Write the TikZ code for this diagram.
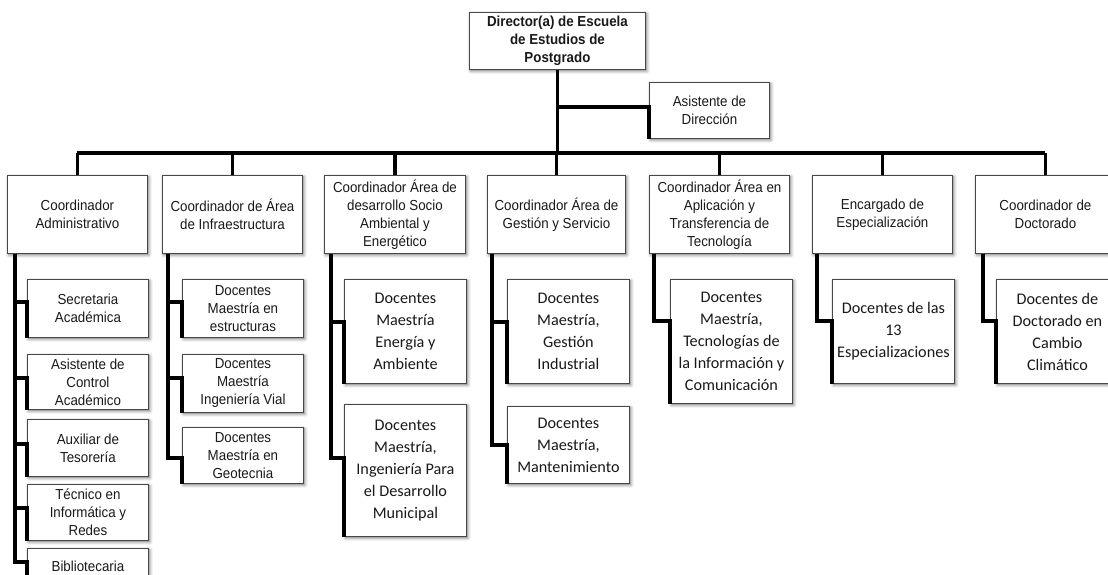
\documentclass[tikz,border=0pt]{standalone}
\usepackage{fontspec}
\setmainfont{Liberation Sans}
\newfontfamily\narrowfont[FakeStretch=0.92]{Liberation Sans}
\newfontfamily\calibfont{Carlito}
\usetikzlibrary{shadows.blur}

\tikzset{
  unitbox/.style={draw=black!72, line width=0.9pt, fill=white,
    blur shadow={shadow xshift=1.3pt, shadow yshift=-1.5pt,
      shadow blur radius=3.2pt, shadow opacity=55},
    inner sep=2pt, align=center, anchor=north west, text=black!90,
    font=\narrowfont\fontsize{14.5}{18}\selectfont},
  bigtext/.style={font=\calibfont\fontsize{16.2}{22}\selectfont},
  headtext/.style={font=\narrowfont\bfseries\fontsize{14.5}{18}\selectfont},
  conn/.style={line width=3.3pt, black},
}

% elbow from a column line to a unit box, continuing down its left edge
\newcommand\branch[3]{%
  \draw[conn] (#1) |- ([yshift=-#3pt]#2.north west) -- (#2.south west);}

\begin{document}
\begin{tikzpicture}[x=1pt, y=-1pt]
\useasboundingbox (0,0) rectangle (1108,575);
\clip (0,0) rectangle (1108,575);

% top level
\node[unitbox, headtext, minimum width=176pt, minimum height=57pt] (dir) at (469,12)
  {Director(a) de Escuela\\de Estudios de\\Postgrado};
\node[unitbox, minimum width=120pt, minimum height=56pt] (asis) at (649,82)
  {Asistente de\\Dirección};

% coordinators
\node[unitbox, minimum width=140pt, minimum height=78pt] (c1) at (7,175)
  {Coordinador\\Administrativo};
\node[unitbox, minimum width=140pt, minimum height=78pt] (c2) at (162,175)
  {Coordinador de Área\\de Infraestructura};
\node[unitbox, minimum width=141pt, minimum height=78pt] (c3) at (324,175)
  {Coordinador Área de\\desarrollo Socio\\Ambiental y\\Energético};
\node[unitbox, minimum width=138pt, minimum height=78pt] (c4) at (487,175)
  {Coordinador Área de\\Gestión y Servicio};
\node[unitbox, minimum width=140pt, minimum height=78pt] (c5) at (649,175)
  {Coordinador Área en\\Aplicación y\\Transferencia de\\Tecnología};
\node[unitbox, minimum width=140pt, minimum height=78pt] (c6) at (812,175)
  {Encargado de\\Especialización};
\node[unitbox, minimum width=140pt, minimum height=78pt] (c7) at (975,175)
  {Coordinador de\\Doctorado};

% administrative staff
\node[unitbox, minimum width=121pt, minimum height=58pt] (s1) at (27,279)
  {Secretaria\\Académica};
\node[unitbox, minimum width=121pt, minimum height=55pt] (s2) at (27,354)
  {Asistente de\\Control\\Académico};
\node[unitbox, minimum width=121pt, minimum height=57pt] (s3) at (27,419)
  {Auxiliar de\\Tesorería};
\node[unitbox, minimum width=121pt, minimum height=56pt] (s4) at (27,484)
  {Técnico en\\Informática y\\Redes};
\node[unitbox, minimum width=121pt, minimum height=36pt] (s5) at (27,548)
  {Bibliotecaria};

% infrastructure
\node[unitbox, minimum width=121pt, minimum height=58pt] (i1) at (182,279)
  {Docentes\\Maestría en\\estructuras};
\node[unitbox, minimum width=121pt, minimum height=58pt] (i2) at (182,354)
  {Docentes\\Maestría\\Ingeniería Vial};
\node[unitbox, minimum width=121pt, minimum height=56pt] (i3) at (182,427)
  {Docentes\\Maestría en\\Geotecnia};

% socio-environmental
\node[unitbox, bigtext, minimum width=122pt, minimum height=104pt] (e1) at (344,279)
  {Docentes\\Maestría\\Energía y\\Ambiente};
\node[unitbox, bigtext, minimum width=122pt, minimum height=132pt] (e2) at (344,404)
  {Docentes\\Maestría,\\Ingeniería Para\\el Desarrollo\\Municipal};

% management and service
\node[unitbox, bigtext, minimum width=122pt, minimum height=104pt] (g1) at (507,279)
  {Docentes\\Maestría,\\Gestión\\Industrial};
\node[unitbox, bigtext, minimum width=122pt, minimum height=77pt] (g2) at (507,406)
  {Docentes\\Maestría,\\Mantenimiento};

% technology transfer
\node[unitbox, bigtext, minimum width=122pt, minimum height=124pt] (t1) at (670,279)
  {Docentes\\Maestría,\\Tecnologías de\\la Información y\\Comunicación};

% specializations
\node[unitbox, bigtext, minimum width=122pt, minimum height=104pt] (p1) at (832,279)
  {Docentes de las\\13\\Especializaciones};

% doctorate
\node[unitbox, bigtext, minimum width=122pt, minimum height=104pt] (d1) at (996,279)
  {Docentes de\\Doctorado en\\Cambio\\Climático};

% connectors: director, assistant and main bus
\coordinate (bus) at (0,153);
\coordinate (stubA) at ([yshift=-25pt]asis.north west);
\draw[conn] (dir.south) -- (dir.south |- bus);
\draw[conn] (dir.south |- stubA) -- (stubA) -- (asis.south west);
\draw[conn] (c1.north |- bus) -- (c7.north |- bus);
\foreach \c in {c1,c2,c3,c4,c5,c6,c7}
  \draw[conn] (\c.north |- bus) -- (\c.north);

% column lines below each coordinator
\coordinate (v1) at ([xshift=8pt]c1.south west);
\coordinate (v2) at ([xshift=6pt]c2.south west);
\coordinate (v3) at ([xshift=7pt]c3.south west);
\coordinate (v4) at ([xshift=5pt]c4.south west);
\coordinate (v5) at ([xshift=5pt]c5.south west);
\coordinate (v6) at ([xshift=5pt]c6.south west);
\coordinate (v7) at ([xshift=8pt]c7.south west);

\branch{v1}{s1}{23}
\branch{v1}{s2}{24}
\branch{v1}{s3}{25}
\branch{v1}{s4}{24}
\branch{v1}{s5}{14}
\branch{v2}{i1}{23}
\branch{v2}{i2}{24}
\branch{v2}{i3}{31}
\branch{v3}{e1}{43}
\branch{v3}{e2}{54}
\branch{v4}{g1}{43}
\branch{v4}{g2}{39}
\branch{v5}{t1}{42}
\branch{v6}{p1}{42}
\branch{v7}{d1}{42}
\end{tikzpicture}
\end{document}
